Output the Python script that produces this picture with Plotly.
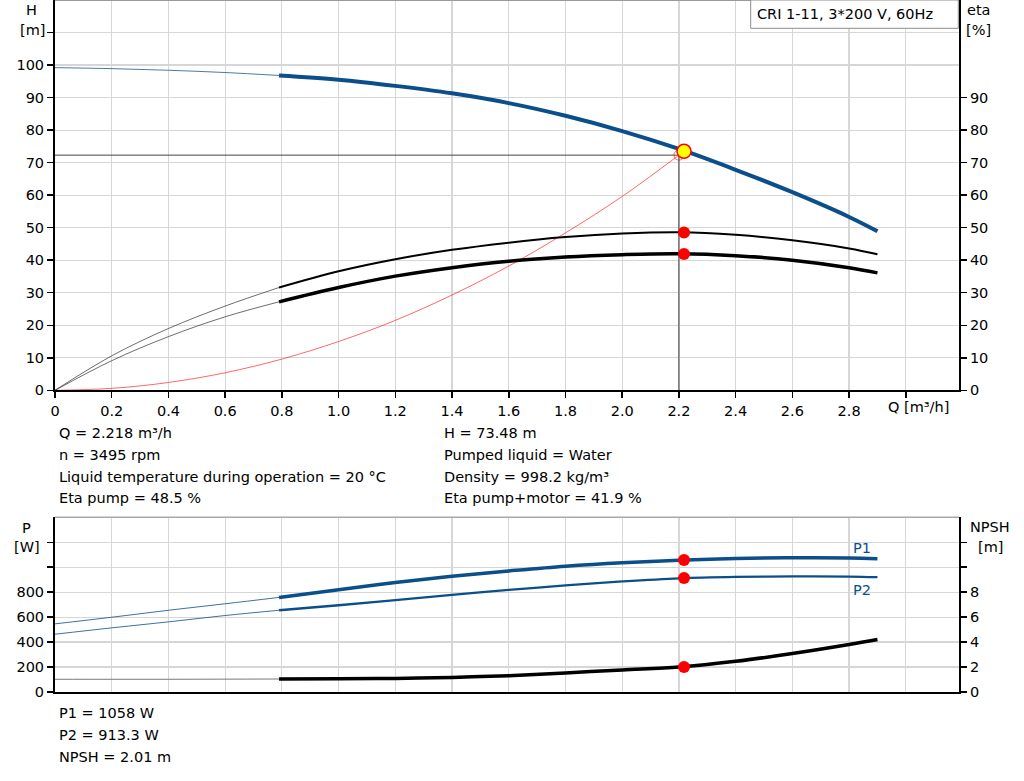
import plotly.graph_objects as go

# ---------------- data ----------------
q = [0, 0.2, 0.4, 0.6, 0.79, 1.0, 1.2, 1.4, 1.6, 1.8, 2.0, 2.2, 2.4, 2.6, 2.8, 2.9]
head = [99.2, 98.9, 98.4, 97.7, 96.8, 95.5, 93.6, 91.3, 88.3, 84.4, 79.7, 74.2, 67.8, 60.9, 53.3, 48.9]
eta_pump = [0, 10.6, 19.0, 25.9, 31.6, 36.6, 40.3, 43.2, 45.4, 47.1, 48.2, 48.6, 47.8, 46.1, 43.6, 41.8]
eta_total = [0, 9.1, 16.5, 22.6, 27.2, 31.6, 35.1, 37.7, 39.7, 41.0, 41.7, 42.0, 41.4, 40.0, 37.7, 36.1]
p1 = [546, 599, 655, 707, 758, 820, 878, 928, 970, 1008, 1036, 1056, 1070, 1076, 1074, 1068]
p2 = [463, 514, 562, 613, 655, 695, 737, 779, 818, 854, 886, 911, 922, 926, 925, 920]
npsh = [1.02, 1.02, 1.02, 1.03, 1.04, 1.06, 1.09, 1.17, 1.31, 1.53, 1.77, 2.0, 2.46, 3.08, 3.8, 4.2]
split = 4  # curves are thin up to Q = 0.79 and thick afterwards

q_sys = [0, 0.2, 0.4, 0.6, 0.8, 1.0, 1.2, 1.4, 1.6, 1.8, 2.0, 2.2]
h_sys = [0, 0.6, 2.4, 5.4, 9.6, 15.0, 21.5, 29.3, 38.2, 48.4, 59.6, 72.3]

q_cross = 2.2
h_cross = 72.3

q_op = 2.218
h_op = 73.48
eta_pump_op = 48.5
eta_total_op = 41.9
p1_op = 1058
p2_op = 913.3
npsh_op = 2.01

q_ticks = [0, 0.2, 0.4, 0.6, 0.8, 1.0, 1.2, 1.4, 1.6, 1.8, 2.0, 2.2, 2.4, 2.6, 2.8, 3.0]
q_ticklabels = ["0", "0.2", "0.4", "0.6", "0.8", "1.0", "1.2", "1.4", "1.6", "1.8",
                "2.0", "2.2", "2.4", "2.6", "2.8", ""]
h_ticks = [0, 10, 20, 30, 40, 50, 60, 70, 80, 90, 100, 110]
h_ticklabels = ["0", "10", "20", "30", "40", "50", "60", "70", "80", "90", "100", ""]
eta_ticks = [0, 10, 20, 30, 40, 50, 60, 70, 80, 90]
p_ticks = [0, 200, 400, 600, 800, 1000, 1200]
p_ticklabels = ["0", "200", "400", "600", "800", "", ""]
npsh_ticks = [0, 2, 4, 6, 8, 10, 12]
npsh_ticklabels = ["0", "2", "4", "6", "8", "", ""]

left_lines = ["Q = 2.218 m³/h", "n = 3495 rpm",
              "Liquid temperature during operation = 20 °C", "Eta pump = 48.5 %"]
right_lines = ["H = 73.48 m", "Pumped liquid = Water",
               "Density = 998.2 kg/m³", "Eta pump+motor = 41.9 %"]
bottom_lines = ["P1 = 1058 W", "P2 = 913.3 W", "NPSH = 2.01 m"]
title_text = "CRI 1-11, 3*200 V, 60Hz"

# ---------------- styling / layout ----------------
W, H = 1024, 781
ML, MR, MT, MB = 55, 65, 0, 89
PW, PH = W - ML - MR, H - MT - MB
FONT = "DejaVu Sans"
FS = 14.5
BLUE = "#0b4f8a"
GRID = "#d6d6d6"


def px(x):
    return (x - ML) / PW


def py(y):
    return (H - MB - y) / PH


top_dom = [py(390.3), 1.0]
bot_dom = [0.0, py(517.3)]
x_max = PW / 283.6

fig = go.Figure()


def add(x, y, color, width, xa="x", ya="y", opacity=1.0):
    fig.add_trace(go.Scatter(x=x, y=y, mode="lines", xaxis=xa, yaxis=ya,
                             line=dict(color=color, width=width, shape="spline", smoothing=1.0),
                             opacity=opacity, hoverinfo="skip", showlegend=False))


# top chart
add(q_sys, h_sys, "rgba(255,0,0,0.75)", 0.8)
add([0, q_cross], [h_cross, h_cross], "#444444", 1)
add([q_cross, q_cross], [0, h_cross], "#444444", 1)
add(q[:split + 1], head[:split + 1], BLUE, 1, opacity=0.75)
add(q[split:], head[split:], BLUE, 4)
add(q[:split + 1], eta_pump[:split + 1], "#333333", 0.9, ya="y3", opacity=0.8)
add(q[split:], eta_pump[split:], "black", 2, ya="y3")
add(q[:split + 1], eta_total[:split + 1], "#333333", 0.9, ya="y3", opacity=0.8)
add(q[split:], eta_total[split:], "black", 3.5, ya="y3")

fig.add_trace(go.Scatter(x=[q_cross], y=[h_cross], mode="markers", xaxis="x", yaxis="y",
                         marker=dict(symbol="circle-open", size=10, color="rgba(255,0,0,0.7)",
                                     line=dict(width=0.8)),
                         hoverinfo="skip", showlegend=False))
fig.add_trace(go.Scatter(x=[q_op], y=[h_op], mode="markers", xaxis="x", yaxis="y",
                         marker=dict(size=14, color="#ffff00", line=dict(color="#ff0000", width=1.5)),
                         hoverinfo="skip", showlegend=False))
fig.add_trace(go.Scatter(x=[q_op, q_op], y=[eta_pump_op, eta_total_op], mode="markers",
                         xaxis="x", yaxis="y3", marker=dict(size=12, color="#ff0000"),
                         hoverinfo="skip", showlegend=False))

# bottom chart
add(q[:split + 1], p1[:split + 1], BLUE, 1, xa="x2", ya="y2", opacity=0.8)
add(q[split:], p1[split:], BLUE, 3.5, xa="x2", ya="y2")
add(q[:split + 1], p2[:split + 1], BLUE, 1, xa="x2", ya="y2", opacity=0.8)
add(q[split:], p2[split:], BLUE, 2.3, xa="x2", ya="y2")
add(q[:split + 1], npsh[:split + 1], "#555555", 1, xa="x2", ya="y4", opacity=0.8)
add(q[split:], npsh[split:], "black", 3.5, xa="x2", ya="y4")
fig.add_trace(go.Scatter(x=[q_op, q_op], y=[p1_op, p2_op], mode="markers",
                         xaxis="x2", yaxis="y2", marker=dict(size=12, color="#ff0000"),
                         hoverinfo="skip", showlegend=False))
fig.add_trace(go.Scatter(x=[q_op], y=[npsh_op], mode="markers",
                         xaxis="x2", yaxis="y4", marker=dict(size=12, color="#ff0000"),
                         hoverinfo="skip", showlegend=False))

axis_common = dict(showline=True, linecolor="black", linewidth=2, zeroline=False,
                   ticks="outside", ticklen=6, tickcolor="black", tickwidth=1.5,
                   tickfont=dict(family=FONT, size=FS, color="black"), fixedrange=True)

fig.update_layout(
    width=W, height=H,
    margin=dict(l=ML, r=MR, t=MT, b=MB),
    paper_bgcolor="white", plot_bgcolor="white",
    font=dict(family=FONT, size=FS, color="black"),
    showlegend=False,
    hovermode=False,
    xaxis=dict(domain=[0, 1], anchor="y", range=[0, x_max], tickmode="array",
               tickvals=q_ticks, ticktext=q_ticklabels, showgrid=True, gridcolor=GRID,
               gridwidth=1.2, **axis_common),
    yaxis=dict(domain=top_dom, anchor="x", range=[0, 120], tickmode="array",
               tickvals=h_ticks, ticktext=h_ticklabels, showgrid=True, gridcolor=GRID,
               gridwidth=1.2, **axis_common),
    yaxis3=dict(overlaying="y", side="right", anchor="x", range=[0, 120], tickmode="array",
                tickvals=eta_ticks, showgrid=False, **axis_common),
    xaxis2=dict(domain=[0, 1], anchor="y2", range=[0, x_max], tickmode="array",
                tickvals=q_ticks, showticklabels=False, showgrid=True, gridcolor=GRID,
                gridwidth=1.2, showline=True, linecolor="black", linewidth=2,
                zeroline=False, ticks="", fixedrange=True),
    yaxis2=dict(domain=bot_dom, anchor="x2", range=[0, 1400], tickmode="array",
                tickvals=p_ticks, ticktext=p_ticklabels, showgrid=True, gridcolor=GRID,
                gridwidth=1.2, **axis_common),
    yaxis4=dict(overlaying="y2", side="right", anchor="x2", range=[0, 14], tickmode="array",
                tickvals=npsh_ticks, ticktext=npsh_ticklabels, showgrid=False, **axis_common),
)

shapes = [
    dict(type="line", xref="paper", yref="paper", x0=0, x1=1, y0=1, y1=1,
         line=dict(color="#9a9a9a", width=2)),
    dict(type="line", xref="paper", yref="paper", x0=0, x1=1, y0=bot_dom[1], y1=bot_dom[1],
         line=dict(color="#a8a8a8", width=1.5)),
    dict(type="rect", xref="paper", yref="paper", x0=px(750.7), x1=px(958.3),
         y0=py(28.3), y1=1.0, line=dict(color="#8c8c8c", width=1), fillcolor="white",
         layer="above"),
]
fig.update_layout(shapes=shapes)


def note(text, x, y, xanchor="left", color="black"):
    fig.add_annotation(text=text, xref="paper", yref="paper", x=px(x), y=py(y),
                       xanchor=xanchor, yanchor="middle", showarrow=False,
                       font=dict(family=FONT, size=FS, color=color))


note(title_text, 754.5, 14.3)
note("H", 31.5, 10, "center")
note("[m]", 32, 30, "center")
note("eta", 979, 10, "center")
note("[%]", 979, 30, "center")
note("Q [m³/h]", 886, 407.5)
note("P", 26.7, 527.5, "center")
note("[W]", 27, 547, "center")
note("NPSH", 990.5, 527, "center")
note("[m]", 990, 547, "center")
note("P1", 861.7, 548.3, "center", BLUE)
note("P2", 862, 590, "center", BLUE)

for i, t in enumerate(left_lines):
    note(t, 56.5, 433.3 + i * 21.7)
for i, t in enumerate(right_lines):
    note(t, 441.5, 433.3 + i * 21.7)
for i, t in enumerate(bottom_lines):
    note(t, 56.5, 712.7 + i * 22)

fig.write_html(
    "out.html",
    config={"displayModeBar": False, "staticPlot": True},
    post_script="document.body.style.margin='0';document.body.style.overflow='hidden';",
)
